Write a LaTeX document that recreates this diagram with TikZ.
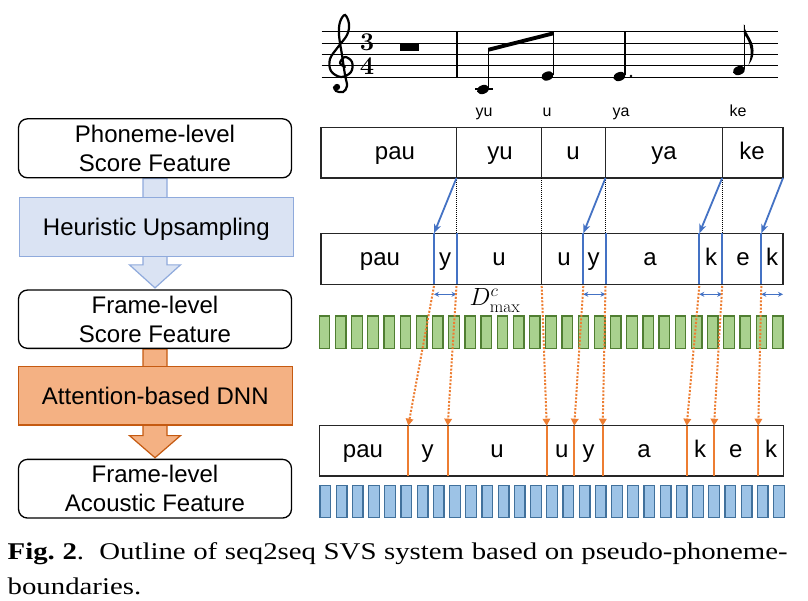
\documentclass[tikz,border=0pt]{standalone}
\usepackage{fontspec}
\usepackage{graphicx}
\newfontfamily\sansA{Liberation Sans}
\newfontfamily\capfont{Liberation Serif}
\usetikzlibrary{arrows.meta,calc}
\pgfdeclarelayer{back}
\pgfdeclarelayer{bg}
\pgfsetlayers{back,bg,main}
\definecolor{bblue}{HTML}{4472C4}
\definecolor{oorange}{HTML}{ED7D31}
\definecolor{gfill}{HTML}{A9D18E}
\definecolor{gdraw}{HTML}{507E32}
\definecolor{bfill}{HTML}{9DC3E6}
\definecolor{bdraw}{HTML}{41719C}
\definecolor{hfill}{HTML}{DAE3F3}
\definecolor{hdraw}{HTML}{8FAADC}
\definecolor{afill}{HTML}{F4B183}
\definecolor{adraw}{HTML}{C55A11}
\tikzset{
  flowbox/.style={draw=black, line width=1.3pt, rounded corners=9pt, fill=white, minimum width=273pt, minimum height=59pt, inner sep=0pt, align=center, font=\sansA\fontsize{24}{29}\selectfont},
  heurbox/.style={flowbox, rounded corners=0pt, draw=hdraw, fill=hfill, text depth=0pt},
  attbox/.style={flowbox, rounded corners=0pt, draw=adraw, fill=afill},
  rowbox/.style={draw=black!85, line width=1.4pt, minimum width=462pt, minimum height=50.5pt, inner sep=0pt},
  lab/.style={anchor=base, inner sep=0pt, font=\sansA\fontsize{24}{24}\selectfont},
  lyric/.style={anchor=base, inner sep=0pt, font=\sansA\fontsize{16}{16}\selectfont},
  bluearr/.style={draw=bblue, line width=1.8pt, -{Stealth[length=9pt,width=7pt,inset=2.5pt]}},
  bluedur/.style={draw=bblue, line width=1.2pt, {Stealth[length=5pt,width=5pt]}-{Stealth[length=5pt,width=5pt]}},
  blueline/.style={draw=bblue, line width=2pt},
  orangearr/.style={draw=oorange, line width=2pt, dash pattern=on 2pt off 1.6pt, -{Triangle[length=7pt,width=7.5pt]}},
  orangeline/.style={draw=oorange, line width=2pt},
  blackdot/.style={draw=black, line width=0.9pt, dash pattern=on 1pt off 1pt},
  divider/.style={draw=black!85, line width=1.4pt},
  gbar/.style={draw=gdraw, fill=gfill, line width=1.3pt},
  bbar/.style={draw=bdraw, fill=bfill, line width=1.3pt},
  staffline/.style={line width=1pt},
  tsig/.style={inner sep=0pt, font=\fontsize{25.5}{25.5}\selectfont\bfseries},
  blockarrH/.style={draw=hdraw, fill=hfill, line width=1.2pt},
  blockarrA/.style={draw=adraw, fill=afill, line width=1.2pt},
}
\begin{document}
\begin{tikzpicture}[x=1pt,y=-1pt]
\useasboundingbox (0,0) rectangle (808,600);
\begin{pgfonlayer}{back}
\fill[white] (0,0) rectangle (808,600);
\end{pgfonlayer}

% ---------------- left flow chart ----------------
\node[flowbox] (box1) at (155,148.3) {Phoneme-level\\Score Feature};
\node[heurbox, minimum width=274pt, minimum height=59.4pt] (heur) at (156.3,227) {Heuristic Upsampling};
\node[flowbox, minimum height=58.3pt] (box2) at (155,319.2) {Frame-level\\Score Feature};
\node[attbox, minimum width=274pt, minimum height=58.3pt] (att) at (155.3,395.8) {Attention-based DNN};
\node[flowbox, minimum height=58.7pt] (box3) at (155,488.7) {Frame-level\\Acoustic Feature};

\begin{pgfonlayer}{bg}
\draw[blockarrH] ($(box1.south)+(-12,0)$) -- ($(box1.south |- heur.south)+(-12,7.5)$)
  -- ($(box1.south |- heur.south)+(-25.5,7.5)$) -- ($(box2.north)+(0,-1.5)$)
  -- ($(box1.south |- heur.south)+(25.5,7.5)$) -- ($(box1.south |- heur.south)+(12,7.5)$)
  -- ($(box1.south)+(12,0)$) -- cycle;
\draw[blockarrA] ($(box2.south)+(-12,0)$) -- ($(box2.south |- att.south)+(-12,10)$)
  -- ($(box2.south |- att.south)+(-25.5,10)$) -- ($(box3.north)+(0,-1)$)
  -- ($(box2.south |- att.south)+(25.5,10)$) -- ($(box2.south |- att.south)+(12,10)$)
  -- ($(box2.south)+(12,0)$) -- cycle;
\end{pgfonlayer}

% ---------------- music staff ----------------
\foreach \y in {31.7,43.1,54.5,65.9,77.3}
  \draw[staffline] (321.7,\y) -- (778,\y);
\draw[line width=1.2pt] (457,31.7) -- (457,77.3);
% treble clef
\draw[line width=2.2pt, line cap=round] plot[smooth, tension=0.6] coordinates {
 (345,67) (340,63) (345,57) (352,62) (351,72) (341,77) (331,71) (330,59) (338,47)
 (347,35) (349,24) (345,15) (340,22) (339,35) (342,55) (345,75) (347,86) (343,92) (336,91) (334,87)};
\fill (337,87) circle (3.2);
% time signature
\node[tsig] (ts3) at (367,42.6) {3};
\node[tsig] (ts4) at (367,66.6) {4};
% whole rest
\fill (400,43.1) rectangle (419,51);
% notes
\draw[line width=1.1pt] (475,89) -- (493,89);
\fill (483,89.5) ellipse [x radius=6.3, y radius=4.4, rotate=20];
\draw[line width=1.2pt] (488.8,88) -- (488.8,49);
\fill (488.2,47.8) -- (553.8,31.2) -- (553.8,35.2) -- (488.2,51.8) -- cycle;
\fill (547.5,76) ellipse [x radius=6.3, y radius=4.4, rotate=20];
\draw[line width=1.2pt] (553.2,75) -- (553.2,32);
\fill (619.5,76.5) ellipse [x radius=6.3, y radius=4.4, rotate=20];
\draw[line width=1.2pt] (625,75) -- (625,32);
\fill (631,76) circle (1.3);
\fill (739,70.5) ellipse [x radius=6.3, y radius=4.4, rotate=20];
\draw[line width=1.2pt] (744.5,69) -- (744.5,24.5);
\fill (743.9,24) .. controls (745,36) and (756,40) .. (753,56) .. controls (752,60) and (750,63) .. (748.5,65)
   .. controls (752,55) and (752,44) .. (743.9,34) -- cycle;
% lyrics
\node[lyric] (l1) at (484,116) {yu};
\node[lyric] (l2) at (547,116) {u};
\node[lyric] (l3) at (621,116) {ya};
\node[lyric] (l4) at (738,116) {ke};

% ---------------- rows ----------------
\node[rowbox] (toprow) at (552,152.7) {};
\foreach \x in {456.5,541.7,605.5,722.2}
  \draw[divider] (\x,127.45) -- (\x,177.95);
\node[lab] (tp1) at (395,159.2) {pau};
\node[lab] (tp2) at (500,159.2) {yu};
\node[lab] (tp3) at (573,159.2) {u};
\node[lab] (tp4) at (664,159.2) {ya};
\node[lab] (tp5) at (752,159.2) {ke};

\node[rowbox, minimum height=51pt] (midrow) at (552,258.8) {};
\draw[divider] (541.7,233.3) -- (541.7,284.3);
\foreach \x in {434,456.5,583.3,605.5,699.3,722.2,761.3}
  \draw[blueline] (\x,233.3) -- (\x,284.3);
\node[lab] (mp1) at (380,265.3) {pau};
\node[lab] (mp2) at (445,265.3) {y};
\node[lab] (mp3) at (499,265.3) {u};
\node[lab] (mp4) at (564,265.3) {u};
\node[lab] (mp5) at (593.5,265.3) {y};
\node[lab] (mp6) at (650,265.3) {a};
\node[lab] (mp7) at (711,265.3) {k};
\node[lab] (mp8) at (743,265.3) {e};
\node[lab] (mp9) at (772,265.3) {k};

% connectors top -> middle
\coordinate (ta) at (456.5,177.95);
\coordinate (tb) at (541.7,177.95);
\coordinate (tc) at (605.5,177.95);
\coordinate (td) at (722.2,177.95);
\coordinate (te) at (783,177.95);
\coordinate (ma) at (434,233.3);
\coordinate (mb) at (456.5,233.3);
\coordinate (mc) at (541.7,233.3);
\coordinate (md) at (583.3,233.3);
\coordinate (me) at (605.5,233.3);
\coordinate (mf) at (699.3,233.3);
\coordinate (mg) at (722.2,233.3);
\coordinate (mh) at (761.3,233.3);
\draw[blackdot] (ta) -- (mb);
\draw[blackdot] (tb) -- (mc);
\draw[blackdot] (tc) -- (me);
\draw[blackdot] (td) -- (mg);
\draw[bluearr] (ta) -- (ma);
\draw[bluearr] (tc) -- (md);
\draw[bluearr] (td) -- (mf);
\draw[bluearr] (te) -- (mh);

% duration arrows
\coordinate (d1) at (434,294.3);   \coordinate (d2) at (456.5,294.3);
\coordinate (d3) at (583.3,294.3); \coordinate (d4) at (605.5,294.3);
\coordinate (d5) at (699.3,294.3); \coordinate (d6) at (722.2,294.3);
\coordinate (d7) at (761.3,294.3); \coordinate (d8) at (783,294.3);
\draw[bluedur] (d1) -- (d2);
\draw[bluedur] (d3) -- (d4);
\draw[bluedur] (d5) -- (d6);
\draw[bluedur] (d7) -- (d8);
\node[inner sep=0pt, font=\fontsize{25}{25}\selectfont] (dmax) at (495,300.5) {$D^{c}_{\max}$};

% green bars
\foreach \i in {0,...,28}{
  \pgfmathsetmacro{\xa}{319.3+16.18*\i}
  \draw[gbar] (\xa,316) rectangle ({\xa+10.5},348.3);
}

% bottom row
\node[rowbox, minimum width=464pt, minimum height=50.3pt] (botrow) at (551.3,450.85) {};
\foreach \n/\x in {1/408.3,2/447.7,3/546.7,4/574.3,5/602.7,6/686.7,7/714,8/758.3}{
  \coordinate (b\n) at (\x,425.7);
  \draw[orangeline] (\x,425.7) -- (\x,476);
}
\foreach \n/\x in {1/434,2/456.5,3/541.7,4/583.3,5/605.5,6/699.3,7/722.2,8/761.3}
  \coordinate (m\n) at (\x,286);
\foreach \n in {1,...,8}
  \draw[orangearr] (m\n) -- (b\n);
\node[lab] (bp1) at (363,457.4) {pau};
\node[lab] (bp2) at (427.7,457.4) {y};
\node[lab] (bp3) at (497,457.4) {u};
\node[lab] (bp4) at (561.7,457.4) {u};
\node[lab] (bp5) at (588.7,457.4) {y};
\node[lab] (bp6) at (644,457.4) {a};
\node[lab] (bp7) at (700,457.4) {k};
\node[lab] (bp8) at (735.7,457.4) {e};
\node[lab] (bp9) at (771,457.4) {k};

% blue bars
\foreach \i in {0,...,28}{
  \pgfmathsetmacro{\xa}{320+16.2*\i}
  \draw[bbar] (\xa,485.7) rectangle ({\xa+10.7},517.3);
}

% caption
\node[anchor=base west, inner sep=0pt] (cap1) at (7.5,559)
  {\scalebox{1.2}[1]{\capfont\fontsize{24}{24}\selectfont\frenchspacing\makebox[650pt][s]{\textbf{Fig.~2}.\ \ Outline of seq2seq SVS system based on pseudo-phoneme-}}};
\node[anchor=base west, inner sep=0pt] (cap2) at (7.5,594)
  {\scalebox{1.2}[1]{\capfont\fontsize{24}{24}\selectfont boundaries.}};
\end{tikzpicture}
\end{document}
